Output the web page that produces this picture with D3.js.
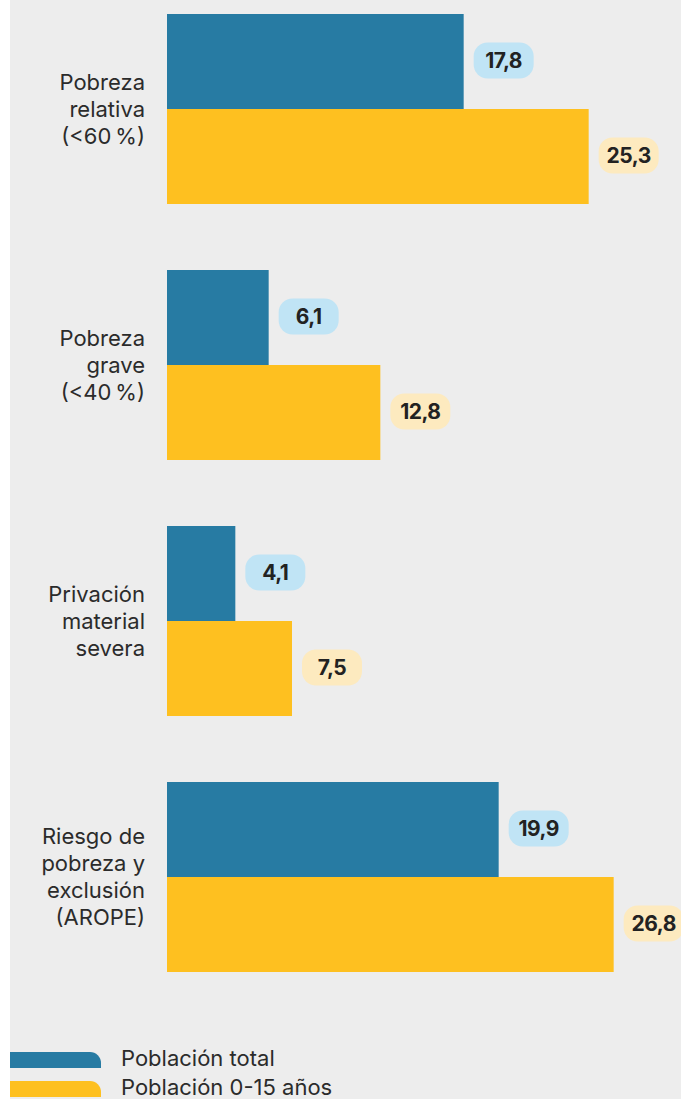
<!DOCTYPE html>
<html>
<head>
<meta charset="utf-8">
<script src="https://cdn.jsdelivr.net/npm/d3@7"></script>
<style>
  body { margin: 0; background: #fff; }
  svg { display: block; font-family: Inter, "Noto Sans", sans-serif; }
</style>
</head>
<body>
<script>
// Data
var categories = [
  ["Pobreza", "relativa", "(<60\u202f%)"],
  ["Pobreza", "grave", "(<40\u202f%)"],
  ["Privación", "material", "severa"],
  ["Riesgo de", "pobreza y", "exclusión", "(AROPE)"]
];
var seriesNames = ["Población total", "Población 0-15 años"];
var total = [17.8, 6.1, 4.1, 19.9];
var ninos = [25.3, 12.8, 7.5, 26.8];

var colors = ["#277ba3", "#fec020"];
var pillColors = ["#c0e4f5", "#fdeabf"];

var width = 681, height = 1099;

var svg = d3.select("body").append("svg")
  .attr("width", width)
  .attr("height", height);

// gray panel
svg.append("rect")
  .attr("x", 10).attr("y", 0)
  .attr("width", width - 10).attr("height", height)
  .attr("fill", "#ededed");

// scales
var x = d3.scaleLinear().domain([0, 30]).range([167, 667]);

var y0 = d3.scaleBand()
  .domain(d3.range(categories.length))
  .range([14, 972])
  .paddingInner(66 / 256)
  .paddingOuter(0);

var y1 = d3.scaleBand()
  .domain([0, 1])
  .range([0, y0.bandwidth()]);

var rows = categories.map(function(c, i) {
  return { i: i, label: c, values: [total[i], ninos[i]] };
});

var group = svg.selectAll("g.grp")
  .data(rows)
  .enter().append("g")
  .attr("class", "grp")
  .attr("transform", function(d) { return "translate(0," + y0(d.i) + ")"; });

// bars
group.selectAll("rect.bar")
  .data(function(d) { return d.values.map(function(v, k) { return { k: k, v: v }; }); })
  .enter().append("rect")
  .attr("class", "bar")
  .attr("x", x(0))
  .attr("y", function(d) { return y1(d.k); })
  .attr("width", function(d) { return x(d.v) - x(0); })
  .attr("height", y1.bandwidth())
  .attr("fill", function(d) { return colors[d.k]; });

// value pills
var pill = group.selectAll("g.pill")
  .data(function(d) { return d.values.map(function(v, k) { return { k: k, v: v }; }); })
  .enter().append("g")
  .attr("class", "pill")
  .attr("transform", function(d) {
    return "translate(" + (x(d.v) + 10) + "," + (y1(d.k) + y1.bandwidth() / 2 - 1) + ")";
  });

pill.append("rect")
  .attr("x", 0).attr("y", -18)
  .attr("width", 60).attr("height", 36)
  .attr("rx", 14)
  .attr("fill", function(d) { return pillColors[d.k]; });

pill.append("text")
  .attr("x", 30).attr("y", 0)
  .attr("dy", "0.35em")
  .attr("text-anchor", "middle")
  .attr("font-size", 21)
  .attr("font-weight", 700)
  .attr("letter-spacing", -0.5)
  .attr("fill", "#222")
  .text(function(d) { return d3.format(".1f")(d.v).replace(".", ","); });

// category labels
var lineH = 27;
group.append("text")
  .attr("text-anchor", "end")
  .attr("font-size", 22)
  .attr("fill", "#2b2b2b")
  .each(function(d) {
    var t = d3.select(this);
    var n = d.label.length;
    var cy = y0.bandwidth() / 2;
    d.label.forEach(function(s, j) {
      t.append("tspan")
        .attr("x", 145)
        .attr("y", cy + (j - (n - 1) / 2) * lineH)
        .attr("dy", "0.35em")
        .text(s);
    });
  });

// legend
var legend = svg.selectAll("g.leg")
  .data(seriesNames)
  .enter().append("g")
  .attr("class", "leg")
  .attr("transform", function(d, i) { return "translate(10," + (1052 + i * 29) + ")"; });

legend.append("path")
  .attr("d", "M0,0 H80 A11,11 0 0 1 91,11 V16 H0 Z")
  .attr("fill", function(d, i) { return colors[i]; });

legend.append("text")
  .attr("x", 111)
  .attr("y", 14)
  .attr("font-size", 22)
  .attr("fill", "#2b2b2b")
  .text(function(d) { return d; });
</script>
</body>
</html>
